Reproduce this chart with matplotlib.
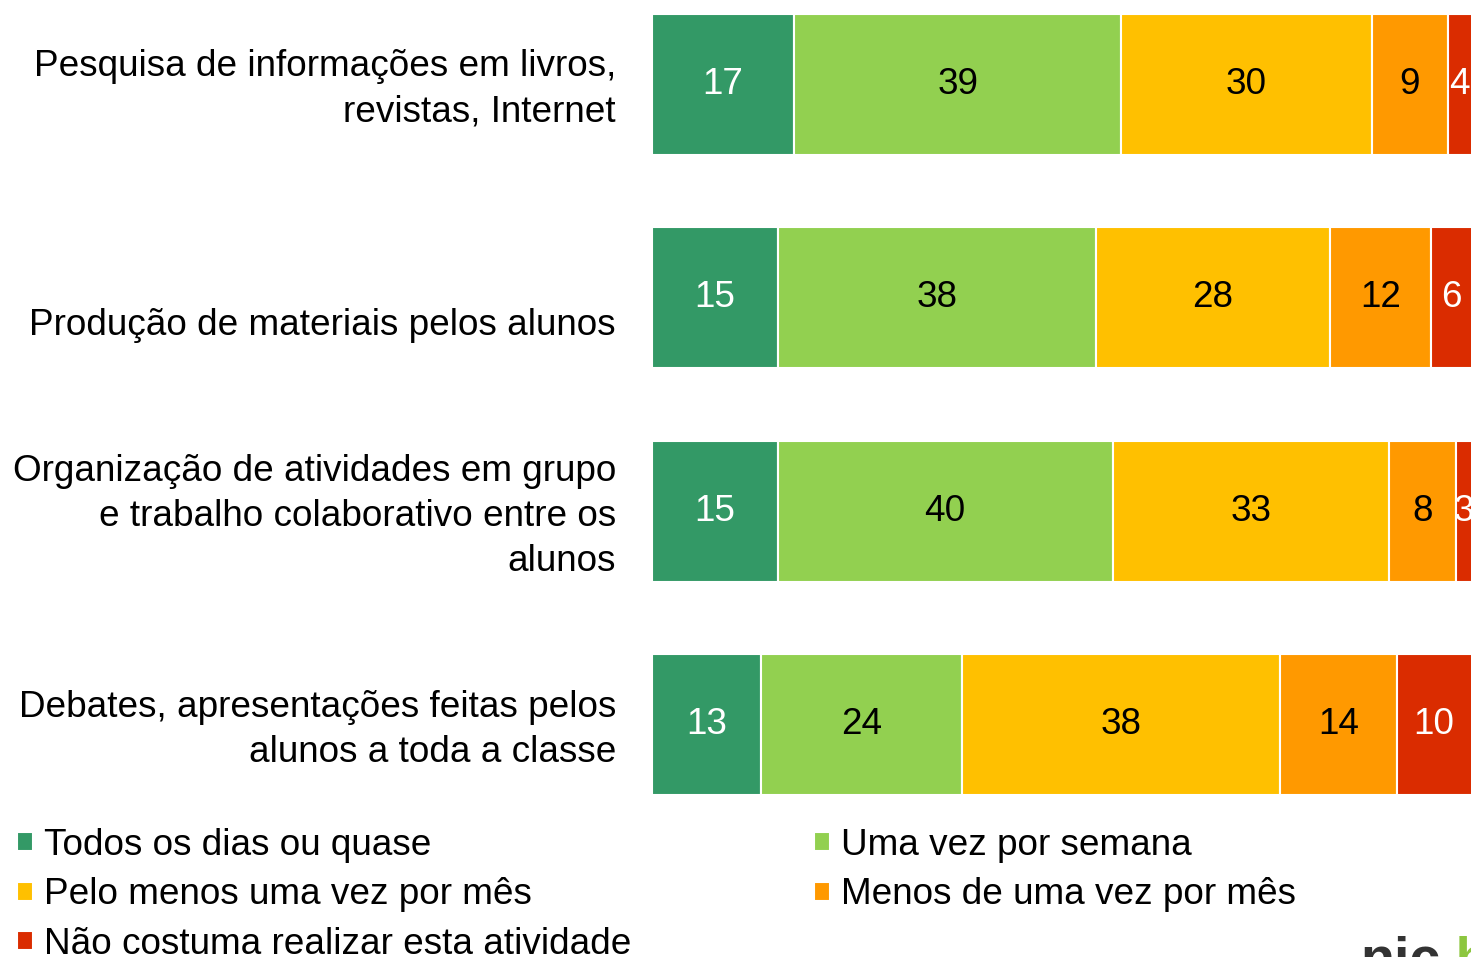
import matplotlib.pyplot as plt
import matplotlib.transforms as mtransforms
import numpy as np

plt.rcParams['font.family'] = ['Liberation Sans', 'DejaVu Sans']

# dados
categorias = ['Pesquisa de informações em livros,\nrevistas, Internet',
              '\nProdução de materiais pelos alunos',
              'Organização de atividades em grupo\ne trabalho colaborativo entre os\nalunos',
              'Debates, apresentações feitas pelos\nalunos a toda a classe']
series = ['Todos os dias ou quase', 'Uma vez por semana', 'Pelo menos uma vez por mês',
          'Menos de uma vez por mês', 'Não costuma realizar esta atividade']
todos_dias = [17, 15, 15, 13]
uma_semana = [39, 38, 40, 24]
pelo_menos_mes = [30, 28, 33, 38]
menos_mes = [9, 12, 8, 14]
nao_realiza = [4, 6, 3, 10]

cores = ['#339966', '#92D050', '#FFC000', '#FF9900', '#DA2C00']
cor_texto = ['white', 'black', 'black', 'black', 'white']
fs = 26.6

fig = plt.figure(figsize=(14.71, 9.57), dpi=100)
ax = fig.add_axes([652 / 1471, 157 / 957, 819 / 1471, 800 / 957])

y = np.arange(len(categorias))
esquerda = np.zeros(len(categorias))
barras = []
for vals, cor, ct, nome in zip([todos_dias, uma_semana, pelo_menos_mes, menos_mes, nao_realiza],
                               cores, cor_texto, series):
    b = ax.barh(y, vals, left=esquerda, height=0.66, color=cor, edgecolor='white',
                linewidth=1.5, label=nome)
    ax.bar_label(b, labels=[str(v) for v in vals], label_type='center', color=ct, fontsize=fs)
    barras.append(b)
    esquerda += np.array(vals)

ax.set_xlim(0, 97.8)
ax.set_ylim(3.352, -0.395)
ax.set_yticks(y)
ax.set_yticklabels(categorias, fontsize=fs, linespacing=1.37)
ax.tick_params(axis='y', length=0, pad=26)
ax.set_xticks([])
for s in ax.spines.values():
    s.set_visible(False)
# sobe um pouco os rótulos
desloc = mtransforms.ScaledTranslation(0, 4 / 100, fig.dpi_scale_trans)
for t in ax.get_yticklabels():
    t.set_transform(t.get_transform() + desloc)

# legenda em duas colunas
ordem = [0, 2, 4, 1, 3]
fig.legend([barras[i] for i in ordem], [series[i] for i in ordem], ncol=2,
           loc='upper left', bbox_to_anchor=(0.0068, 0.143), frameon=False, fontsize=fs,
           handlelength=0.42, handleheight=0.42, handletextpad=0.3, columnspacing=4.95,
           labelspacing=0.4, borderpad=0.2, borderaxespad=0.0)

# logo parcialmente cortado
fig.text(1360 / 1471, -18 / 957, 'nic', fontsize=40, fontweight='bold', color='#333333')
fig.text(1440 / 1471, -18 / 957, '.br', fontsize=40, fontweight='bold', color='#8CC63F')

fig.savefig('out.png', dpi=100)
